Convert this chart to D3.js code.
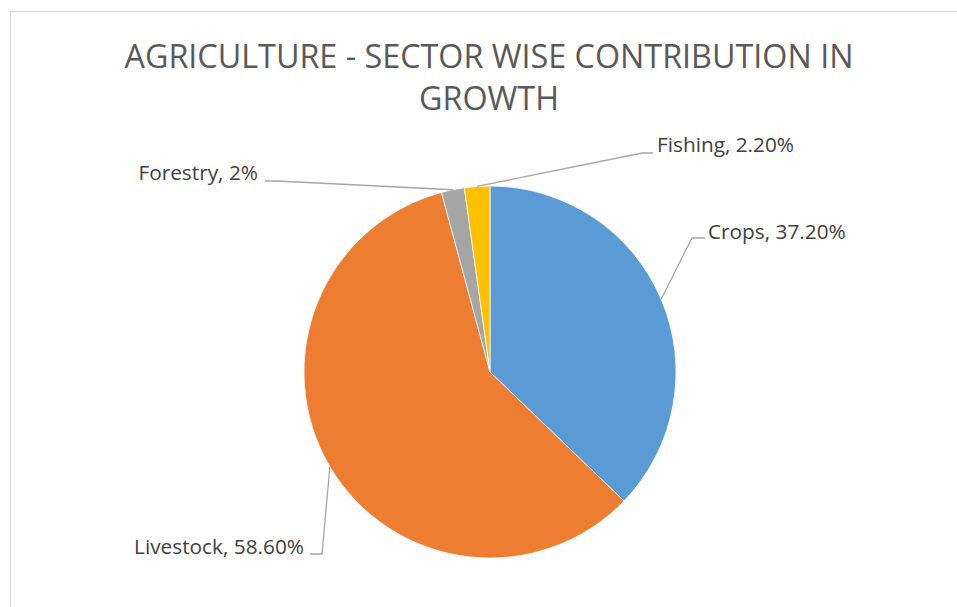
<!DOCTYPE html>
<html>
<head>
<meta charset="utf-8">
<script src="https://cdn.jsdelivr.net/npm/d3@7"></script>
<style>
  html, body { margin: 0; padding: 0; background: #fff; }
  svg { display: block; }
  text { font-family: "Open Sans", "Liberation Sans", sans-serif; }
</style>
</head>
<body>
<svg id="chart" width="957" height="607"></svg>
<script>
// Sector shares of agricultural growth (percent)
const sectors = ["Crops", "Livestock", "Forestry", "Fishing"];
const shares = [37.2, 58.6, 2, 2.2];
const shareLabels = ["37.20%", "58.60%", "2%", "2.20%"];
const colors = ["#5B9BD5", "#ED7D31", "#A5A5A5", "#FFC000"];
const titleLines = ["AGRICULTURE - SECTOR WISE CONTRIBUTION IN", "GROWTH"];

const W = 957, H = 607;
const cx = 490, cy = 372, radius = 186;

// Where each data label sits: label anchor, elbow of the leader line, and the line's end beside the text
const labelLayout = [
  { tx: 708, ty: 239, anchor: "start", elbow: [692, 238], end: [705, 238] },
  { tx: 304, ty: 554, anchor: "end",   elbow: [322, 554], end: [310, 554] },
  { tx: 258, ty: 180, anchor: "end",   elbow: [277, 181], end: [265, 181] },
  { tx: 657, ty: 152, anchor: "start", elbow: [642, 153], end: [653, 153] }
];

const svg = d3.select("#chart");

// chart-area frame
svg.append("rect")
  .attr("x", 10.5).attr("y", 11.5)
  .attr("width", W + 20).attr("height", H + 20)
  .attr("fill", "#fff")
  .attr("stroke", "#d9d9d9")
  .attr("stroke-width", 1.2);

// title
svg.append("g").selectAll("text")
  .data(titleLines)
  .join("text")
  .attr("x", 489)
  .attr("y", (d, i) => 68 + i * 42)
  .attr("text-anchor", "middle")
  .attr("fill", "#595959")
  .attr("font-size", 32.3)
  .text(d => d);

const data = sectors.map((s, i) => ({ name: s, value: shares[i], label: shareLabels[i], color: colors[i], layout: labelLayout[i] }));

const pie = d3.pie().value(d => d.value).sort(null);
const arcs = pie(data);
const arc = d3.arc().innerRadius(0).outerRadius(radius);

const g = svg.append("g").attr("transform", `translate(${cx},${cy})`);

g.selectAll("path.slice")
  .data(arcs)
  .join("path")
  .attr("class", "slice")
  .attr("d", arc)
  .attr("fill", d => d.data.color)
  .attr("stroke", "#fff")
  .attr("stroke-width", 0.75);

// leader lines from the slice's outer edge midpoint
const edge = d3.arc().innerRadius(radius).outerRadius(radius);
const lines = svg.append("g");
arcs.forEach(a => {
  const c = edge.centroid(a);
  const L = a.data.layout;
  const pts = [[cx + c[0], cy + c[1]], L.elbow, L.end];
  lines.append("path")
    .attr("d", d3.line()(pts))
    .attr("fill", "none")
    .attr("stroke", "#a6a6a6")
    .attr("stroke-width", 1.3);
});

// data labels
svg.append("g").selectAll("text")
  .data(arcs)
  .join("text")
  .attr("x", d => d.data.layout.tx)
  .attr("y", d => d.data.layout.ty)
  .attr("text-anchor", d => d.data.layout.anchor)
  .attr("fill", "#404040")
  .attr("font-size", 20.8)
  .text(d => `${d.data.name}, ${d.data.label}`);
</script>
</body>
</html>
